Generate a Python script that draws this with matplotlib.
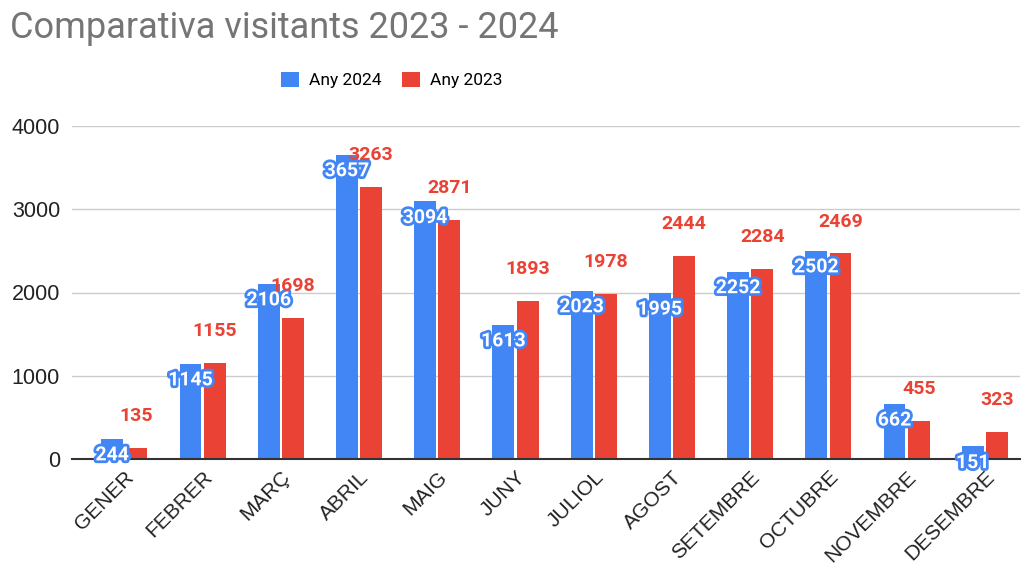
import matplotlib
matplotlib.use("Agg")
import matplotlib.pyplot as plt
import matplotlib.patheffects as pe
import numpy as np

months = ["GENER", "FEBRER", "MARÇ", "ABRIL", "MAIG", "JUNY", "JULIOL", "AGOST",
          "SETEMBRE", "OCTUBRE", "NOVEMBRE", "DESEMBRE"]
any_2024 = [244, 1145, 2106, 3657, 3094, 1613, 2023, 1995, 2252, 2502, 662, 151]
any_2023 = [135, 1155, 1698, 3263, 2871, 1893, 1978, 2444, 2284, 2469, 455, 323]
yticks = [0, 1000, 2000, 3000, 4000]

BLUE = "#4285F4"
RED = "#EA4335"

plt.rcParams['font.family'] = ['Roboto', 'DejaVu Sans']
TICKFONT = ['Liberation Sans', 'DejaVu Sans']

W, H = 1023, 569
fig = plt.figure(figsize=(W / 100, H / 100), dpi=100)
ax = fig.add_axes([72 / W, 1 - 459 / H, (1020 - 72) / W, (459 - 126) / H])

x = np.arange(len(months))
bw = 0.28
off = 0.155
b1 = ax.bar(x - off, any_2024, bw, color=BLUE, label="Any 2024", zorder=3)
b2 = ax.bar(x + off, any_2023, bw, color=RED, label="Any 2023", zorder=3)

for xi, v in zip(x, any_2024):
    ax.annotate(str(v), (xi - off, v), xytext=(0, -12), textcoords="offset points",
                ha="center", va="center", fontsize=14, fontweight="bold", color="white",
                zorder=5,
                path_effects=[pe.withStroke(linewidth=4, foreground=BLUE)])
for xi, v in zip(x, any_2023):
    ax.annotate(str(v), (xi + off, v), xytext=(0, 23), textcoords="offset points",
                ha="center", va="center", fontsize=14, fontweight="bold", color=RED,
                zorder=5)

ax.set_xlim(-0.67, 11.45)
ax.set_ylim(0, 4000)
ax.set_yticks(yticks)
ax.set_yticklabels([str(t) for t in yticks], fontsize=15.5, color="#222222",
                   family=TICKFONT)
ax.set_xticks(x)
ax.set_xticklabels(months, rotation=45, ha="right", rotation_mode="anchor",
                   fontsize=15, color="#222222", family=TICKFONT)
ax.tick_params(axis="both", length=0)
ax.tick_params(axis="y", pad=8.6)
ax.tick_params(axis="x", pad=6)
ax.grid(axis="y", color="#cccccc", linewidth=1, zorder=0)
for s in ["top", "right", "left"]:
    ax.spines[s].set_visible(False)
ax.spines["bottom"].set_color("#333333")
ax.spines["bottom"].set_linewidth(1.5)
ax.spines["bottom"].set_zorder(4)

fig.text(10 / W, 1 - 28 / H, "Comparativa visitants 2023 - 2024", fontsize=26,
         color="#757575", ha="left", va="center")

fig.legend(handles=[b1, b2], loc="center", bbox_to_anchor=(392 / W, 1 - 80 / H),
           ncol=2, frameon=False, fontsize=12.5, handlelength=1.0, handleheight=1.0,
           handletextpad=0.6, columnspacing=1.2)

fig.savefig("out.png", dpi=100)
